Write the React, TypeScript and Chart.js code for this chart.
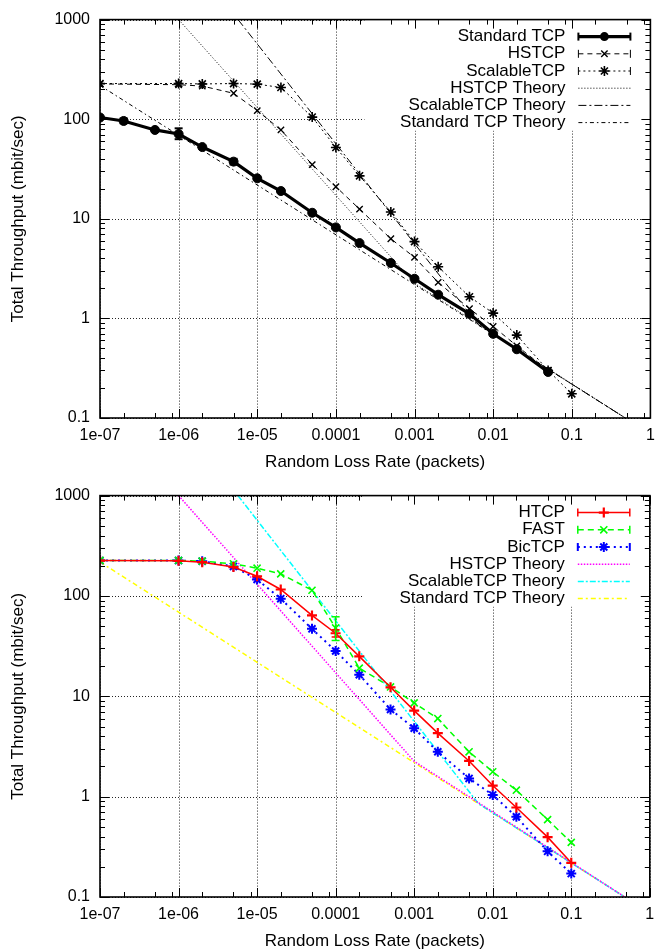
import { useEffect, useRef } from 'react';
import { Chart, registerables } from 'chart.js';

Chart.register(...registerables);

const FONT = '"Liberation Sans", Arial, Helvetica, sans-serif';

// ---------- axes ----------
const xMajorTicks = [1e-7, 1e-6, 1e-5, 1e-4, 1e-3, 1e-2, 1e-1, 1];
const xTickLabels = ['1e-07', '1e-06', '1e-05', '0.0001', '0.001', '0.01', '0.1', '1'];
const yMajorTicks = [0.1, 1, 10, 100, 1000];
const yTickLabels = ['0.1', '1', '10', '100', '1000'];
const xMinorFactors = [2, 5, 8.3];
const yMinorFactors = [2, 3, 4, 5, 6, 7, 8, 9];
const xTitle = 'Random Loss Rate (packets)';
const yTitle = 'Total Throughput (mbit/sec)';

// ---------- top chart data ----------
const stdX = [1e-7, 2e-7, 5e-7, 1e-6, 2e-6, 5e-6, 1e-5, 2e-5, 5e-5, 1e-4, 2e-4, 5e-4, 1e-3, 2e-3, 5e-3, 1e-2, 2e-2, 5e-2];
const stdY = [104, 96, 78, 71, 52.5, 37.5, 25.5, 19, 11.5, 8.2, 5.7, 3.6, 2.5, 1.73, 1.11, 0.7, 0.49, 0.29];
const stdErrX = [2e-7, 1e-6, 5e-6];
const stdErrLo = [91, 63, 35];
const stdErrHi = [102, 81, 40];

const hsX = [1e-7, 1e-6, 2e-6, 5e-6, 1e-5, 2e-5, 5e-5, 1e-4, 2e-4, 5e-4, 1e-3, 2e-3, 5e-3, 1e-2, 2e-2, 5e-2];
const hsY = [226, 222, 215, 182, 122, 78, 35, 21, 12.5, 6.3, 4.1, 2.3, 1.25, 0.83, 0.53, 0.3];

const scX = [1e-7, 1e-6, 2e-6, 5e-6, 1e-5, 2e-5, 5e-5, 1e-4, 2e-4, 5e-4, 1e-3, 2e-3, 5e-3, 1e-2, 2e-2, 5e-2, 1e-1];
const scY = [228, 228, 226, 228, 225, 208, 105, 52, 27, 11.7, 5.9, 3.3, 1.65, 1.13, 0.68, 0.3, 0.175];

// ---------- theory lines ----------
const hsThX = [1e-6, 1e-3, 0.48];
const hsThY = [1000, 2.25, 0.1];
const scThX = [5.7e-6, 0.0066, 0.48];
const scThY = [1000, 0.85, 0.1];
const stdThX = [1e-7, 0.48];
const stdThY = [218, 0.1];

// ---------- bottom chart data ----------
const bX = [1e-7, 1e-6, 2e-6, 5e-6, 1e-5, 2e-5, 5e-5, 1e-4, 2e-4, 5e-4, 1e-3, 2e-3, 5e-3, 1e-2, 2e-2, 5e-2, 1e-1];
const htcpY = [225, 224, 217, 194, 157, 116, 64, 42.5, 25, 12.3, 7.2, 4.3, 2.27, 1.29, 0.78, 0.395, 0.219];
const fastY = [226, 226, 222, 209, 189, 166, 114, 48, 19.1, 12.4, 8.6, 6.0, 2.8, 1.77, 1.16, 0.59, 0.35];
const bicY = [225, 225, 222, 197, 146, 94, 47, 28.3, 16.4, 7.4, 4.8, 2.8, 1.52, 1.04, 0.63, 0.285, 0.171];
const htcpErrX = [1e-4];
const htcpErrLo = [39];
const htcpErrHi = [46];
const fastErrX = [1e-4];
const fastErrLo = [36];
const fastErrHi = [62];

function pts(xs: number[], ys: number[]) {
  return xs.map((x, i) => ({ x, y: ys[i] }));
}

function series(label: string, xs: number[], ys: number[], style: any) {
  return {
    label,
    data: pts(xs, ys),
    tension: 0,
    fill: false,
    pointRadius: 0,
    pointHoverRadius: 0,
    ...style,
  };
}

function marker(color: string, style: string, r: number, lw: number) {
  return {
    pointStyle: style,
    pointRadius: r,
    pointBorderColor: color,
    pointBackgroundColor: color,
    pointBorderWidth: lw,
  };
}

const topDatasets = [
  series('Standard TCP', stdX, stdY, {
    borderColor: '#000', borderWidth: 3.2, ...marker('#000', 'circle', 4.5, 1),
    legendCaps: true, errX: stdErrX, errLo: stdErrLo, errHi: stdErrHi,
  }),
  series('HSTCP', hsX, hsY, {
    borderColor: '#000', borderWidth: 1, borderDash: [5, 4], ...marker('#000', 'crossRot', 4.5, 1.4),
    legendCaps: true,
  }),
  series('ScalableTCP', scX, scY, {
    borderColor: '#000', borderWidth: 1, borderDash: [2, 3], ...marker('#000', 'star', 5, 1.6),
    legendCaps: true,
  }),
  series('HSTCP Theory', hsThX, hsThY, { borderColor: '#000', borderWidth: 1, borderDash: [1, 2] }),
  series('ScalableTCP Theory', scThX, scThY, { borderColor: '#000', borderWidth: 1, borderDash: [8, 3, 2, 3] }),
  series('Standard TCP Theory', stdThX, stdThY, { borderColor: '#000', borderWidth: 1, borderDash: [4, 3, 1.5, 3] }),
];

const bottomDatasets = [
  series('HTCP', bX, htcpY, {
    borderColor: '#ff0000', borderWidth: 1.5, ...marker('#ff0000', 'cross', 5, 2.2),
    legendCaps: true, errX: htcpErrX, errLo: htcpErrLo, errHi: htcpErrHi,
  }),
  series('FAST', bX, fastY, {
    borderColor: '#00ff00', borderWidth: 1.5, borderDash: [6, 4], ...marker('#00ff00', 'crossRot', 5, 1.6),
    legendCaps: true, errX: fastErrX, errLo: fastErrLo, errHi: fastErrHi,
  }),
  series('BicTCP', bX, bicY, {
    borderColor: '#0000ff', borderWidth: 2, borderDash: [2, 4], ...marker('#0000ff', 'star', 5, 2),
    legendCaps: true,
  }),
  series('HSTCP Theory', hsThX, hsThY, { borderColor: '#ff00ff', borderWidth: 1.5, borderDash: [1.5, 1.5] }),
  series('ScalableTCP Theory', scThX, scThY, { borderColor: '#00ffff', borderWidth: 1.5, borderDash: [6, 2, 2, 2] }),
  series('Standard TCP Theory', stdThX, stdThY, { borderColor: '#ffff00', borderWidth: 1.5, borderDash: [5, 3, 2, 3] }),
];

function allTicks(majors: number[], factors: number[], max: number) {
  const out: number[] = [];
  majors.forEach((m) => {
    out.push(m);
    factors.forEach((f) => {
      const v = m * f;
      if (v < max) out.push(v);
    });
  });
  return out;
}

function drawMarker(ctx: CanvasRenderingContext2D, style: string, x: number, y: number, r: number, color: string, lw: number) {
  ctx.save();
  ctx.setLineDash([]);
  ctx.strokeStyle = color;
  ctx.fillStyle = color;
  ctx.lineWidth = lw;
  ctx.beginPath();
  if (style === 'circle') {
    ctx.arc(x, y, r, 0, Math.PI * 2);
    ctx.fill();
  } else {
    const plus = style === 'cross' || style === 'star';
    const rot = style === 'crossRot' || style === 'star';
    if (plus) {
      ctx.moveTo(x - r, y); ctx.lineTo(x + r, y);
      ctx.moveTo(x, y - r); ctx.lineTo(x, y + r);
    }
    if (rot) {
      const d = r * Math.SQRT1_2;
      ctx.moveTo(x - d, y - d); ctx.lineTo(x + d, y + d);
      ctx.moveTo(x - d, y + d); ctx.lineTo(x + d, y - d);
    }
    ctx.stroke();
  }
  ctx.restore();
}

function seg(ctx: CanvasRenderingContext2D, x1: number, y1: number, x2: number, y2: number) {
  ctx.beginPath();
  ctx.moveTo(x1, y1);
  ctx.lineTo(x2, y2);
  ctx.stroke();
}

const gnuplotPlugin = {
  id: 'gnuplotLook',
  beforeDatasetsDraw(chart: any) {
    const { ctx, chartArea: a, scales } = chart;
    const x = scales.x, y = scales.y;
    ctx.save();
    ctx.strokeStyle = 'rgba(0,0,0,0.85)';
    ctx.lineWidth = 1;
    ctx.setLineDash([1, 2]);
    xMajorTicks.forEach((v) => {
      const px = Math.round(x.getPixelForValue(v)) + 0.5;
      seg(ctx, px, a.top, px, a.bottom);
    });
    yMajorTicks.forEach((v) => {
      const py = Math.round(y.getPixelForValue(v)) + 0.5;
      seg(ctx, a.left, py, a.right, py);
    });
    ctx.setLineDash([]);
    // opaque key box
    ctx.fillStyle = '#ffffff';
    ctx.fillRect(a.right - 286, a.top, 286, 111);
    ctx.restore();
  },
  afterDatasetsDraw(chart: any) {
    const { ctx, scales } = chart;
    const x = scales.x, y = scales.y;
    chart.data.datasets.forEach((ds: any) => {
      if (!ds.errX) return;
      ctx.save();
      ctx.strokeStyle = ds.borderColor;
      ctx.lineWidth = Math.min(ds.borderWidth, 2);
      ctx.setLineDash([]);
      ds.errX.forEach((ev: number, i: number) => {
        const px = x.getPixelForValue(ev);
        const lo = y.getPixelForValue(ds.errLo[i]);
        const hi = y.getPixelForValue(ds.errHi[i]);
        seg(ctx, px, lo, px, hi);
        seg(ctx, px - 4, lo, px + 4, lo);
        seg(ctx, px - 4, hi, px + 4, hi);
      });
      ctx.restore();
    });
  },
  afterDraw(chart: any) {
    const { ctx, chartArea: a, scales } = chart;
    const x = scales.x, y = scales.y;
    ctx.save();
    ctx.strokeStyle = '#000';
    ctx.lineWidth = 1;
    ctx.setLineDash([]);
    // tick marks (inward, mirrored)
    allTicks(xMajorTicks, xMinorFactors, 1).forEach((v) => {
      const len = xMajorTicks.indexOf(v) >= 0 ? 9 : 5;
      const px = Math.round(x.getPixelForValue(v)) + 0.5;
      seg(ctx, px, a.bottom, px, a.bottom - len);
      seg(ctx, px, a.top, px, a.top + len);
    });
    allTicks(yMajorTicks, yMinorFactors, 1000).forEach((v) => {
      const len = yMajorTicks.indexOf(v) >= 0 ? 9 : 5;
      const py = Math.round(y.getPixelForValue(v)) + 0.5;
      seg(ctx, a.left, py, a.left + len, py);
      seg(ctx, a.right, py, a.right - len, py);
    });
    // border
    ctx.lineWidth = 1.6;
    ctx.strokeRect(a.left, a.top, a.right - a.left, a.bottom - a.top);
    // key
    const textRight = a.right - 85;
    const x1 = a.right - 72;
    const x2 = a.right - 20;
    chart.data.datasets.forEach((ds: any, i: number) => {
      const yy = a.top + 17 + i * 17.2;
      ctx.font = `17px ${FONT}`;
      ctx.textAlign = 'right';
      ctx.textBaseline = 'middle';
      ctx.fillStyle = '#000';
      ctx.fillText(ds.label, textRight, yy);
      ctx.strokeStyle = ds.borderColor;
      ctx.lineWidth = ds.borderWidth;
      ctx.setLineDash(ds.borderDash || []);
      seg(ctx, x1, yy, x2, yy);
      ctx.setLineDash([]);
      if (ds.legendCaps) {
        ctx.lineWidth = Math.min(ds.borderWidth, 2);
        seg(ctx, x1, yy - 4, x1, yy + 4);
        seg(ctx, x2, yy - 4, x2, yy + 4);
      }
      if (ds.pointRadius > 0) {
        drawMarker(ctx, ds.pointStyle, (x1 + x2) / 2, yy, ds.pointRadius, ds.pointBorderColor, ds.pointBorderWidth);
      }
    });
    ctx.restore();
  },
};

type PlotProps = {
  datasets: any[];
  padTop: number;
  xHeight: number;
  titlePadBottom: number;
  height: number;
};

function Plot({ datasets, padTop, xHeight, titlePadBottom, height }: PlotProps) {
  const ref = useRef<HTMLCanvasElement | null>(null);
  useEffect(() => {
    if (!ref.current) return;
    const xTicksAll = allTicks(xMajorTicks, xMinorFactors, 1);
    const yTicksAll = allTicks(yMajorTicks, yMinorFactors, 1000);
    const chart = new Chart(ref.current, {
      type: 'line',
      data: { datasets },
      plugins: [gnuplotPlugin],
      options: {
        responsive: false,
        maintainAspectRatio: false,
        animation: false,
        devicePixelRatio: 1,
        layout: { padding: { top: padTop, right: 4, left: 0, bottom: 0 } },
        plugins: {
          legend: { display: false },
          tooltip: { enabled: false },
        },
        events: [],
        scales: {
          x: {
            type: 'logarithmic',
            min: 1e-7,
            max: 1,
            grid: { display: false, drawTicks: false },
            border: { display: false },
            afterBuildTicks: (scale: any) => {
              scale.ticks = xTicksAll.map((v) => ({ value: v }));
            },
            afterFit: (scale: any) => {
              scale.height = xHeight;
              scale.paddingLeft = 0;
              scale.paddingRight = 0;
            },
            ticks: {
              autoSkip: false,
              maxRotation: 0,
              minRotation: 0,
              padding: 8,
              color: '#000',
              font: { family: FONT, size: 16 },
              callback: (value: any) => {
                const i = xMajorTicks.indexOf(Number(value));
                return i >= 0 ? xTickLabels[i] : '';
              },
            },
            title: {
              display: true,
              text: xTitle,
              color: '#000',
              font: { family: FONT, size: 17 },
              padding: { top: 0, bottom: titlePadBottom },
            },
          },
          y: {
            type: 'logarithmic',
            min: 0.1,
            max: 1000,
            grid: { display: false, drawTicks: false },
            border: { display: false },
            afterBuildTicks: (scale: any) => {
              scale.ticks = yTicksAll.map((v) => ({ value: v }));
            },
            afterFit: (scale: any) => {
              scale.width = 100;
            },
            ticks: {
              autoSkip: false,
              padding: 10,
              color: '#000',
              font: { family: FONT, size: 16 },
              callback: (value: any) => {
                const i = yMajorTicks.indexOf(Number(value));
                return i >= 0 ? yTickLabels[i] : '';
              },
            },
            title: {
              display: true,
              text: yTitle,
              color: '#000',
              font: { family: FONT, size: 17 },
              padding: { top: 8, bottom: 0 },
            },
          },
        },
      } as any,
    });
    return () => chart.destroy();
  }, [datasets, padTop, xHeight, titlePadBottom]);
  return (
    <canvas
      ref={ref}
      width={657}
      height={height}
      style={{ display: 'block', width: 657, height }}
    />
  );
}

export default function App() {
  return (
    <div style={{ position: 'absolute', left: 0, top: 0, width: 657, height: 952, background: '#fff' }}>
      <Plot datasets={topDatasets} padTop={15} xHeight={58} titlePadBottom={3} height={476} />
      <Plot datasets={bottomDatasets} padTop={17} xHeight={55} titlePadBottom={0} height={476} />
    </div>
  );
}
